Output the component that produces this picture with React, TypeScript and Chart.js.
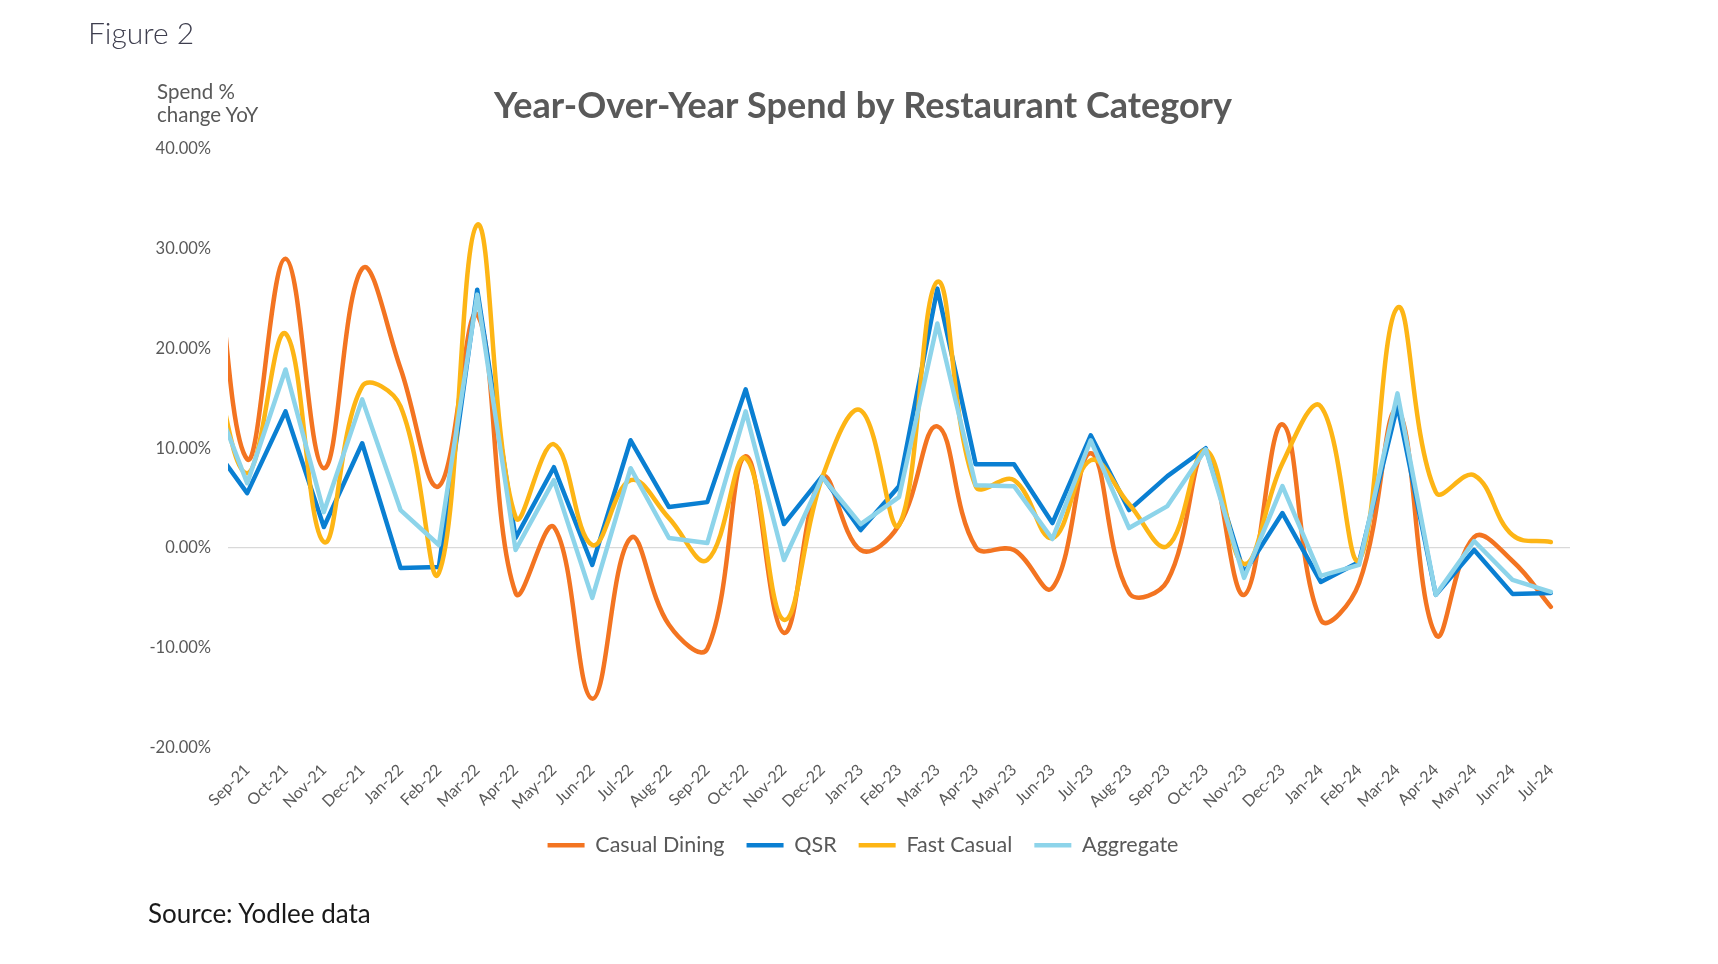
import React, { useEffect, useRef } from "react";
import { Chart, registerables } from "chart.js";

Chart.register(...registerables);

// First category (Aug-21) sits just left of the visible axis range; the lines enter from it.
const categories = [
  "Aug-21", "Sep-21", "Oct-21", "Nov-21", "Dec-21", "Jan-22", "Feb-22", "Mar-22", "Apr-22",
  "May-22", "Jun-22", "Jul-22", "Aug-22", "Sep-22", "Oct-22", "Nov-22", "Dec-22", "Jan-23",
  "Feb-23", "Mar-23", "Apr-23", "May-23", "Jun-23", "Jul-23", "Aug-23", "Sep-23", "Oct-23",
  "Nov-23", "Dec-23", "Jan-24", "Feb-24", "Mar-24", "Apr-24", "May-24", "Jun-24", "Jul-24",
];

const casualDining = [
  38.0, 8.9, 29.0, 8.0, 28.0, 18.0, 6.2, 23.4, -4.5, 2.1, -15.1, 1.0, -7.7, -10.1, 9.2, -8.5,
  7.1, -0.2, 2.3, 12.2, 0.1, -0.2, -4.0, 9.5, -4.5, -3.3, 9.6, -4.7, 12.4, -7.2, -3.5, 13.8,
  -8.7, 1.1, -1.3, -5.9,
];

const qsr = [
  10.8, 5.5, 13.7, 2.1, 10.5, -2.0, -1.9, 25.9, 1.0, 8.1, -1.7, 10.8, 4.1, 4.6, 15.9, 2.4,
  7.2, 1.8, 6.2, 26.0, 8.4, 8.4, 2.5, 11.3, 3.8, 7.2, 10.0, -2.5, 3.5, -3.4, -1.4, 14.3,
  -4.7, -0.2, -4.6, -4.5,
];

const fastCasual = [
  21.0, 7.5, 21.5, 0.6, 16.2, 14.2, -2.5, 32.4, 3.1, 10.4, 0.3, 6.8, 3.0, -1.2, 9.0, -7.2,
  7.1, 13.8, 2.3, 26.7, 6.2, 6.8, 1.0, 8.8, 4.4, 0.2, 9.8, -1.6, 8.5, 14.2, -1.2, 24.1,
  5.6, 7.3, 1.3, 0.6,
];

const aggregate = [
  16.5, 6.5, 17.9, 3.6, 14.9, 3.8, 0.3, 25.4, -0.2, 6.8, -5.0, 8.0, 1.0, 0.5, 13.7, -1.2,
  7.1, 2.4, 5.1, 22.5, 6.3, 6.2, 0.9, 10.8, 2.0, 4.2, 9.9, -3.0, 6.2, -2.8, -1.7, 15.5,
  -4.7, 0.7, -3.2, -4.4,
];

const seriesNames = ["Casual Dining", "QSR", "Fast Casual", "Aggregate"];
const seriesColors = ["#F37421", "#0A7FD2", "#FDB515", "#8DD4EA"];
const seriesSmooth = [true, false, true, false];
const yMin = -20;
const yMax = 40;
const yStep = 10;

const FONT = "Lato";
const GRAY = "#595959";

function ChartCanvas() {
  const ref = useRef<HTMLCanvasElement | null>(null);

  useEffect(() => {
    if (!ref.current) return;
    const values = [casualDining, qsr, fastCasual, aggregate];
    const chart = new Chart(ref.current, {
      type: "line",
      data: {
        labels: categories,
        datasets: values.map((vals, i) => ({
          label: seriesNames[i],
          data: vals,
          borderColor: seriesColors[i],
          backgroundColor: seriesColors[i],
          borderWidth: 4.5,
          borderCapStyle: "round" as const,
          borderJoinStyle: "round" as const,
          tension: seriesSmooth[i] ? 0.4 : 0,
          pointRadius: 0,
          pointHoverRadius: 0,
          pointStyle: "line" as const,
          fill: false,
          order: values.length - i,
        })),
      },
      options: {
        responsive: false,
        animation: false,
        devicePixelRatio: 1,
        layout: { padding: { left: 135, right: 127, top: 0, bottom: 90 } },
        font: { family: FONT },
        plugins: {
          title: {
            display: true,
            text: "Year-Over-Year Spend by Restaurant Category",
            color: GRAY,
            font: { family: FONT, size: 36, weight: "bold" },
            padding: { top: 76.5, bottom: 21.3 },
          },
          legend: {
            position: "bottom",
            labels: {
              usePointStyle: true,
              pointStyle: "line",
              pointStyleWidth: 37,
              boxWidth: 37,
              padding: 22,
              color: GRAY,
              font: { family: FONT, size: 21.5 },
              sort: (a: any, b: any) => a.datasetIndex - b.datasetIndex,
            },
          },
          tooltip: { enabled: false },
        },
        scales: {
          x: {
            type: "category",
            min: categories[1],
            max: categories[categories.length - 1],
            offset: true,
            grid: { display: false },
            border: { display: false },
            ticks: {
              autoSkip: false,
              minRotation: 45,
              maxRotation: 45,
              padding: 5,
              color: GRAY,
              font: { family: FONT, size: 16 },
            },
            afterFit: (scale: any) => {
              scale.height = 65;
            },
          },
          y: {
            min: yMin,
            max: yMax,
            border: { display: false },
            grid: {
              drawTicks: false,
              lineWidth: 1.3,
              color: (ctx: any) => (ctx.tick && ctx.tick.value === 0 ? "#D9D9D9" : "rgba(0,0,0,0)"),
            },
            ticks: {
              stepSize: yStep,
              padding: 17,
              color: GRAY,
              font: { family: FONT, size: 16.5 },
              callback: (v: any) => `${Number(v).toFixed(2)}%`,
            },
            afterFit: (scale: any) => {
              scale.width = 85;
            },
          },
          // empty right-hand spacer axis (no ticks, no grid)
          ySpacer: {
            type: "linear",
            position: "right",
            display: true,
            grid: { display: false, drawTicks: false },
            border: { display: false },
            ticks: { display: false },
            afterFit: (scale: any) => {
              scale.width = 13;
            },
          },
        },
      },
    });
    return () => chart.destroy();
  }, []);

  return (
    <canvas
      ref={ref}
      width={1702}
      height={948}
      style={{ position: "absolute", left: 0, top: 0, width: 1702, height: 948, display: "block" }}
    />
  );
}

export default function App() {
  return (
    <div style={{ position: "relative", width: 1702, height: 948, background: "#fff", fontFamily: FONT }}>
      <ChartCanvas />
      <div
        style={{
          position: "absolute",
          left: 80,
          top: 9,
          fontSize: 30,
          lineHeight: "30px",
          fontWeight: 300,
          color: "#3E3E4E",
          whiteSpace: "nowrap",
        }}
      >
        Figure 2
      </div>
      <div
        style={{
          position: "absolute",
          left: 149,
          top: 72,
          fontSize: 20.5,
          lineHeight: "23px",
          color: GRAY,
          whiteSpace: "nowrap",
        }}
      >
        Spend %
        <br />
        change YoY
      </div>
      <div
        style={{
          position: "absolute",
          left: 140,
          top: 890,
          fontSize: 26,
          lineHeight: "30px",
          color: "#1A1A1A",
          whiteSpace: "nowrap",
        }}
      >
        Source: Yodlee data
      </div>
    </div>
  );
}
